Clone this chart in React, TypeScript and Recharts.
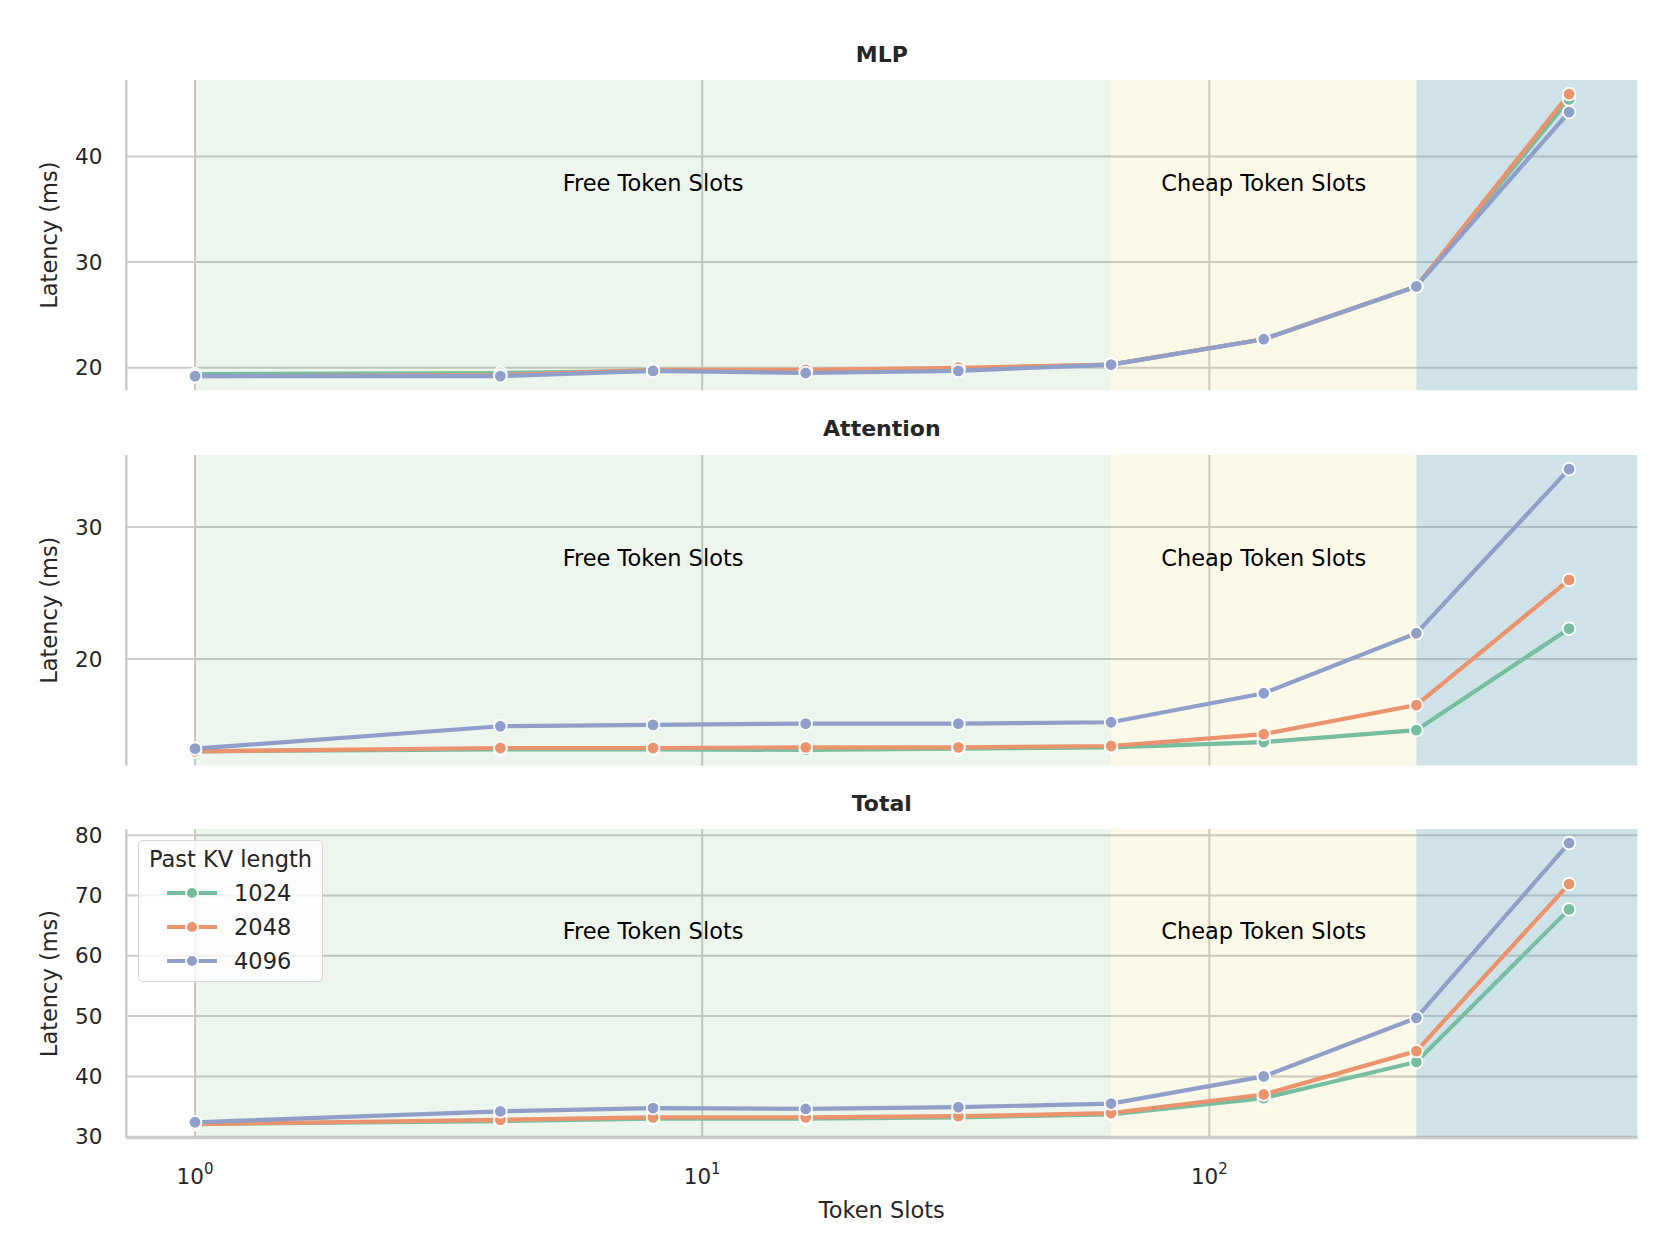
import React from "react";
import {
  LineChart,
  Line,
  XAxis,
  YAxis,
  CartesianGrid,
  ReferenceArea,
  Legend,
} from "recharts";

// x values (token slots) shared by every panel
const tokenSlots = [1, 4, 8, 16, 32, 64, 128, 256, 512];
const kvLengths = ["1024", "2048", "4096"];
const kvColors = ["#77bea1", "#ea936c", "#909fca"];

// MLP latency (ms)
const mlp1024 = [19.4, 19.5, 19.7, 19.7, 19.9, 20.3, 22.7, 27.7, 45.4];
const mlp2048 = [19.2, 19.3, 19.8, 19.8, 20.0, 20.3, 22.7, 27.7, 45.9];
const mlp4096 = [19.2, 19.2, 19.7, 19.5, 19.7, 20.3, 22.7, 27.7, 44.2];

// Attention latency (ms)
const attn1024 = [13.0, 13.15, 13.15, 13.1, 13.2, 13.3, 13.7, 14.6, 22.3];
const attn2048 = [13.0, 13.25, 13.25, 13.3, 13.3, 13.4, 14.3, 16.5, 26.0];
const attn4096 = [13.2, 14.9, 15.0, 15.1, 15.1, 15.2, 17.4, 21.95, 34.4];

// Total latency (ms)
const total1024 = [32.1, 32.6, 33.0, 33.0, 33.2, 33.7, 36.4, 42.4, 67.7];
const total2048 = [32.1, 32.8, 33.2, 33.2, 33.4, 33.9, 37.0, 44.2, 71.9];
const total4096 = [32.4, 34.2, 34.75, 34.6, 34.9, 35.5, 40.0, 49.7, 78.7];

const xTicks = [1, 10, 100];
const mlpTicks = [20, 30, 40];
const attnTicks = [20, 30];
const totalTicks = [30, 40, 50, 60, 70, 80];

const freeRegion = [1, 64];
const cheapRegion = [64, 256];

// log-scale x domain with matplotlib-like 5% margins
const xDomain = [Math.pow(10, -0.1355), Math.pow(10, 2.844)];

const GRID = "#cccccc";
const TEXT = "#262626";
const FONT = "DejaVu Sans";

function buildRows(a: number[], b: number[], c: number[]) {
  return tokenSlots.map((s, i) => ({ slots: s, k1024: a[i], k2048: b[i], k4096: c[i] }));
}

function padded(...series: number[][]) {
  const all = series.flat();
  const lo = Math.min(...all);
  const hi = Math.max(...all);
  const pad = (hi - lo) * 0.05;
  return [lo - pad, hi + pad];
}

const regionLabel = (text: string) => (props: any) => {
  const vb = props.viewBox;
  return (
    <text
      x={vb.x + vb.width / 2}
      y={vb.y + vb.height * 0.331 + 8}
      textAnchor="middle"
      fontSize={22.5}
      fontFamily={FONT}
      fill="#000"
    >
      {text}
    </text>
  );
};

const LogTick = (props: any) => {
  const { x, y, payload } = props;
  const exp = Math.round(Math.log10(payload.value));
  return (
    <text x={x} y={y + 46} textAnchor="middle" fontSize={21.5} fontFamily={FONT} fill={TEXT}>
      <tspan>10</tspan>
      <tspan dy={-10} fontSize={15}>
        {exp}
      </tspan>
    </text>
  );
};

const EmptyTick = () => <g />;

const renderLegend = (props: any) => {
  const payload = props.payload || [];
  return (
    <div
      style={{
        boxSizing: "border-box",
        width: 185,
        height: 142,
        border: "1.5px solid #d6d6d6",
        borderRadius: 5,
        background: "rgba(255,255,255,0.8)",
        fontFamily: FONT,
        color: TEXT,
        fontSize: 22.5,
        paddingTop: 4,
      }}
    >
      <div style={{ height: 28, lineHeight: "28px", textAlign: "center" }}>Past KV length</div>
      <div style={{ height: 3 }} />
      {payload.map((p: any) => (
        <div key={p.value} style={{ height: 34, position: "relative" }}>
          <svg width={52} height={34} style={{ position: "absolute", left: 27, top: 0 }}>
            <line x1={1} y1={17} x2={51} y2={17} stroke={p.color} strokeWidth={4.2} />
            <circle cx={26} cy={17} r={6} fill={p.color} stroke="#fff" strokeWidth={1.8} />
          </svg>
          <span style={{ position: "absolute", left: 95, top: 0, lineHeight: "34px" }}>{p.value}</span>
        </div>
      ))}
    </div>
  );
};

type PanelProps = {
  title: string;
  rows: any[];
  yTicks: number[];
  yDomain: number[];
  plotTop: number;
  plotBottom: number;
  bottomAxis?: boolean;
};

const PLOT_LEFT = 126.3;
const PLOT_RIGHT = 1637.4;
const CHART_W = 1678;
const TOP_PAD = 40;

function Panel({ title, rows, yTicks, yDomain, plotTop, plotBottom, bottomAxis }: PanelProps) {
  const plotH = plotBottom - plotTop;
  const xAxisH = bottomAxis ? 90 : 0;
  const bottomPad = bottomAxis ? 0 : 10;
  const height = TOP_PAD + plotH + xAxisH + bottomPad;
  return (
    <div style={{ position: "absolute", left: 0, top: plotTop - TOP_PAD, width: CHART_W, height }}>
      <div
        style={{
          position: "absolute",
          left: PLOT_LEFT,
          width: PLOT_RIGHT - PLOT_LEFT,
          top: TOP_PAD - 25.5 - 15,
          height: 30,
          lineHeight: "30px",
          textAlign: "center",
          fontWeight: "bold",
          fontSize: 22,
          fontFamily: FONT,
          color: TEXT,
          zIndex: 2,
        }}
      >
        {title}
      </div>
      <LineChart
        width={CHART_W}
        height={height}
        data={rows}
        margin={{ top: TOP_PAD, right: CHART_W - PLOT_RIGHT, bottom: bottomPad, left: PLOT_LEFT - 60 }}
      >
        <CartesianGrid stroke={GRID} strokeWidth={2} syncWithTicks />
        <XAxis
          dataKey="slots"
          type="number"
          scale="log"
          domain={xDomain}
          allowDataOverflow
          ticks={xTicks}
          height={xAxisH}
          axisLine={{ stroke: GRID, strokeWidth: 2.5 }}
          tickLine={false}
          tickSize={0}
          tickMargin={0}
          tick={bottomAxis ? <LogTick /> : <EmptyTick />}
          interval={0}
          label={
            bottomAxis
              ? (p: any) => {
                  const vb = p.viewBox;
                  return (
                    <text
                      x={vb.x + vb.width / 2}
                      y={vb.y + 79.5}
                      textAnchor="middle"
                      fontSize={22.5}
                      fontFamily={FONT}
                      fill={TEXT}
                    >
                      Token Slots
                    </text>
                  );
                }
              : undefined
          }
        />
        <YAxis
          type="number"
          width={60}
          domain={yDomain}
          allowDataOverflow
          ticks={yTicks}
          interval={0}
          axisLine={{ stroke: GRID, strokeWidth: 2.5 }}
          tickLine={false}
          tickSize={0}
          tickMargin={24}
          tick={{ fontSize: 21.5, fill: TEXT, fontFamily: FONT }}
          label={(p: any) => {
            const vb = p.viewBox;
            const cy = vb.y + vb.height / 2;
            return (
              <text
                x={49}
                y={cy}
                transform={`rotate(-90, 49, ${cy})`}
                textAnchor="middle"
                dominantBaseline="central"
                fontSize={22.5}
                fontFamily={FONT}
                fill={TEXT}
              >
                Latency (ms)
              </text>
            );
          }}
        />
        <ReferenceArea
          x1={freeRegion[0]}
          x2={freeRegion[1]}
          fill="#008000"
          fillOpacity={0.07}
          stroke="none"
          label={regionLabel("Free Token Slots")}
        />
        <ReferenceArea
          x1={cheapRegion[0]}
          x2={cheapRegion[1]}
          fill="#e1c323"
          fillOpacity={0.1}
          stroke="none"
          label={regionLabel("Cheap Token Slots")}
        />
        <ReferenceArea x1={cheapRegion[1]} x2={xDomain[1]} fill="#5f9eb2" fillOpacity={0.3} stroke="none" />
        {kvLengths.map((kv, i) => (
          <Line
            key={kv}
            dataKey={`k${kv}`}
            name={kv}
            type="linear"
            stroke={kvColors[i]}
            strokeWidth={4.2}
            dot={{ r: 6.3, fill: kvColors[i], stroke: "#fff", strokeWidth: 1.8 }}
            activeDot={false}
            isAnimationActive={false}
          />
        ))}
        {bottomAxis && (
          <Legend
            layout="horizontal"
            verticalAlign="middle"
            align="center"
            wrapperStyle={{ left: 138, top: 50.6, width: 185, height: 142 }}
            content={renderLegend}
          />
        )}
      </LineChart>
    </div>
  );
}

export default function App() {
  return (
    <div
      style={{
        position: "absolute",
        left: 0,
        top: 0,
        width: 1678,
        height: 1236,
        background: "#fff",
        fontFamily: FONT,
      }}
    >
      <Panel
        title="MLP"
        rows={buildRows(mlp1024, mlp2048, mlp4096)}
        yTicks={mlpTicks}
        yDomain={padded(mlp1024, mlp2048, mlp4096)}
        plotTop={80.3}
        plotBottom={390.6}
      />
      <Panel
        title="Attention"
        rows={buildRows(attn1024, attn2048, attn4096)}
        yTicks={attnTicks}
        yDomain={padded(attn1024, attn2048, attn4096)}
        plotTop={454.8}
        plotBottom={765.2}
      />
      <Panel
        title="Total"
        rows={buildRows(total1024, total2048, total4096)}
        yTicks={totalTicks}
        yDomain={padded(total1024, total2048, total4096)}
        plotTop={829.4}
        plotBottom={1138.5}
        bottomAxis
      />
    </div>
  );
}
